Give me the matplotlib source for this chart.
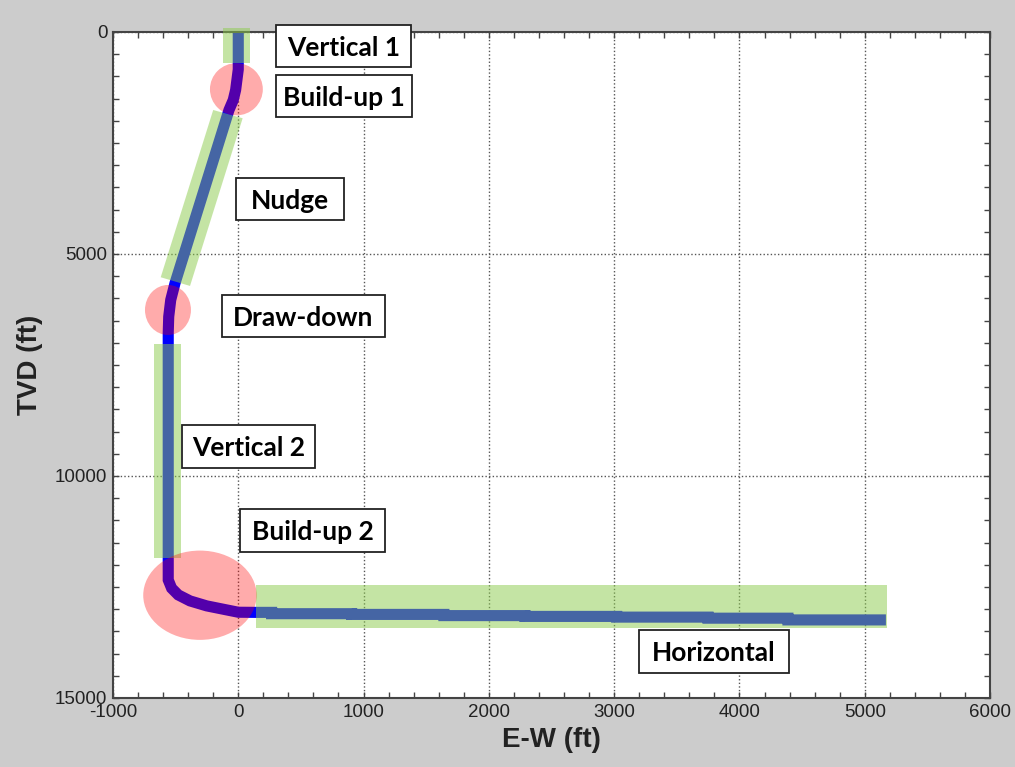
import matplotlib
matplotlib.use("Agg")
import matplotlib.pyplot as plt
from matplotlib.patches import Ellipse, Polygon, Rectangle
from matplotlib.ticker import MultipleLocator

plt.rcParams["axes.unicode_minus"] = False

# ---- well path (E-W ft, TVD ft) ----
ew = [0, 0, -21, -40, -74, -505, -539, -555, -559, -559, -559,
      -532, -479, -385, -252, -120, 0, 141,
      266, 266, 905, 905, 1641, 1641, 2288, 2288, 3020, 3020,
      3749, 3749, 4387, 4387, 5169]
tvd = [0, 844, 1306, 1532, 1757, 5659, 6035, 6411, 6778, 6869, 12341,
       12528, 12679, 12814, 12926, 13001, 13069, 13072,
       13072, 13102, 13102, 13118, 13118, 13145, 13145, 13163, 13163, 13179,
       13179, 13203, 13203, 13242, 13242]

# ---- section highlights ----
# straight sections (green polygons): lists of (E-W, TVD) corners
vertical1_zone = [(-124, -90), (93, -90), (93, 690), (-124, 690)]
nudge_zone = [(-200, 1757), (35, 1943), (-385, 5720), (-619, 5524)]
vertical2_zone = [(-670, 7026), (-457, 7026), (-457, 11847), (-670, 11847)]
horizontal_zone = [(141, 12455), (5174, 12455), (5174, 13417), (141, 13417)]
straight_zones = [vertical1_zone, nudge_zone, vertical2_zone, horizontal_zone]

# curved sections (red ellipses): center E-W, center TVD, width, height
curve_centers_ew = [-15, -561, -306]
curve_centers_tvd = [1290, 6261, 12686]
curve_widths = [422, 367, 905]
curve_heights = [1175, 1126, 2011]

# ---- labels: text, box x0, x1, y0, y1 (data) ----
label_texts = ["Vertical 1", "Build-up 1", "Nudge", "Draw-down",
               "Vertical 2", "Build-up 2", "Horizontal"]
label_x0 = [301, 301, -18, -130, -452, 14, 3200]
label_x1 = [1378, 1386, 844, 1171, 612, 1171, 4393]
label_y0 = [-158, 968, 3288, 5923, 8850, 10742, 13467]
label_y1 = [788, 1914, 4234, 6869, 9812, 11704, 14429]

x_ticks = [-1000, 0, 1000, 2000, 3000, 4000, 5000, 6000]
y_ticks = [0, 5000, 10000, 15000]

fig = plt.figure(figsize=(10.15, 7.67), dpi=100, facecolor="#cccccc")
ax = fig.add_axes([0.1113, 0.09, 0.8641, 0.8683])
ax.set_facecolor("white")

ax.plot(ew, tvd, color=(0, 0, 1), lw=8, solid_capstyle="butt",
        solid_joinstyle="miter", zorder=2)

for zone in straight_zones:
    ax.add_patch(Polygon(zone, closed=True, facecolor=(139/255, 203/255, 75/255),
                         alpha=0.5, edgecolor="none", zorder=3, clip_on=False))
for cx, cy, w, h in zip(curve_centers_ew, curve_centers_tvd, curve_widths, curve_heights):
    ax.add_patch(Ellipse((cx, cy), w, h, facecolor=(1, 0, 0), alpha=0.33,
                         edgecolor="none", zorder=3))

for t, x0, x1, y0, y1 in zip(label_texts, label_x0, label_x1, label_y0, label_y1):
    ax.add_patch(Rectangle((x0, y0), x1 - x0, y1 - y0, facecolor="white",
                           edgecolor="#222222", lw=1.3, zorder=5, clip_on=False))
    ax.text((x0 + x1) / 2, (y0 + y1) / 2, t, ha="center", va="center_baseline",
            fontsize=19, fontweight="bold", family="Lato", zorder=6,
            clip_on=False)

ax.set_xlim(-1000, 6000)
ax.set_ylim(15000, 0)
ax.set_xticks(x_ticks)
ax.set_yticks(y_ticks)
ax.xaxis.set_minor_locator(MultipleLocator(200))
ax.yaxis.set_minor_locator(MultipleLocator(500))
ax.tick_params(which="both", direction="in", top=True, right=True,
               color="#444444", length=4, width=1)
ax.tick_params(which="major", labelsize=13.5, pad=4, labelcolor="#222222")
for lab in ax.get_xticklabels() + ax.get_yticklabels():
    lab.set_family("Liberation Sans")
ax.grid(True, which="major", linestyle=(0, (1, 1.6)), color="#555555", lw=1)
ax.set_axisbelow(True)
for s in ax.spines.values():
    s.set_color("#444444")
    s.set_linewidth(1.5)

ax.set_xlabel("E-W (ft)", fontsize=20, fontweight="bold", family="Liberation Sans",
              color="#222222")
ax.set_ylabel("TVD (ft)", fontsize=20, fontweight="bold", family="Liberation Sans",
              color="#222222")
ax.xaxis.set_label_coords(0.5, -0.043)
ax.yaxis.set_label_coords(-0.08, 0.5)

fig.savefig("out.png", dpi=100, facecolor=fig.get_facecolor())
